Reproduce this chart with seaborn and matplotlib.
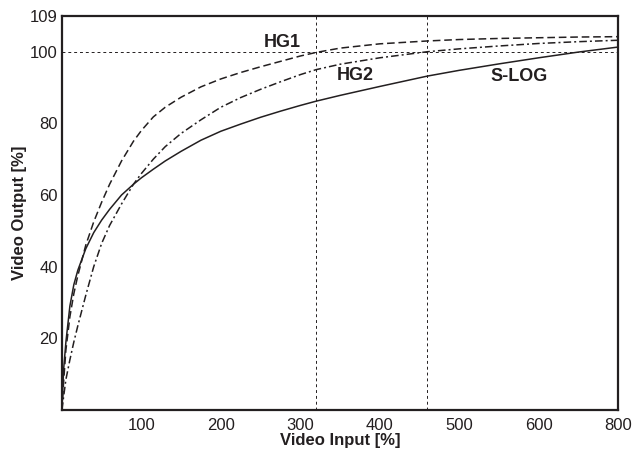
import pandas as pd
import matplotlib.pyplot as plt
import seaborn as sns

# Video input [%] sample points
video_input = [0, 2, 5, 10, 15, 20, 30, 40, 50, 60, 75, 90, 100, 115, 130,
               150, 175, 200, 225, 250, 275, 300, 320, 350, 400, 460, 500,
               550, 600, 650, 700]

# Video output [%] per curve
hg1 = [0, 7.5, 16.8, 26, 32.5, 37.5, 46, 52.5, 58, 63, 69.5, 75, 78,
       81.8, 84.5, 87.3, 90.2, 92.4, 94.2, 95.8, 97.3, 98.8, 99.8, 101,
       102.2, 103, 103.4, 103.7, 103.9, 104.1, 104.2]
hg2 = [0, 3.5, 8.5, 14, 19, 23.5, 32, 40, 46.5, 51.5, 57.5, 63, 66, 70,
       73.5, 77.2, 81, 84.5, 87.2, 89.5, 91.6, 93.6, 95, 96.5, 98.3, 100,
       100.8, 101.6, 102.3, 102.8, 103.2]
slog = [0, 11, 19, 29, 35, 39, 45, 49.5, 53, 56, 60, 63, 64.8, 67.2, 69.5,
        72.2, 75.3, 77.8, 79.8, 81.7, 83.4, 85, 86.2, 87.8, 90.3, 93.2, 94.8,
        96.6, 98.3, 99.9, 101.3]

curve_names = ['HG1', 'HG2', 'S-LOG']
label_x = [277, 369, 575]
label_y = [102.7, 93.4, 93.0]

# reference lines
ref_level = 100
ref_inputs = [320, 460]

x_ticks = [100, 200, 300, 400, 500, 600, 700]
x_tick_labels = ['100', '200', '300', '400', '500', '600', '800']
x_minor = [50, 150, 250, 350, 450, 550, 650]
y_ticks = [20, 40, 60, 80, 100, 110]
y_tick_labels = ['20', '40', '60', '80', '100', '109']

df = pd.DataFrame({
    'input': video_input * 3,
    'output': hg1 + hg2 + slog,
    'curve': [n for n in curve_names for _ in video_input],
})

sns.set_style("white")
plt.rcParams['font.family'] = ['Liberation Sans', 'DejaVu Sans']

ink = '#231f20'
fig, ax = plt.subplots(figsize=(6.32, 4.54), dpi=100)
fig.subplots_adjust(left=0.098, right=0.978, bottom=0.097, top=0.965)

styles = {'HG1': (0, (5, 2.5)), 'HG2': (0, (5, 2, 1.3, 2)), 'S-LOG': '-'}
for name in curve_names:
    sns.lineplot(data=df[df['curve'] == name], x='input', y='output',
                 ax=ax, color=ink, lw=1.1, linestyle=styles[name])

# dotted guides
ax.axhline(ref_level, color=ink, lw=0.7, linestyle=(0, (3, 3)))
for xv in ref_inputs:
    ax.axvline(xv, color=ink, lw=0.7, linestyle=(0, (3, 3)))

for name, lx, ly in zip(curve_names, label_x, label_y):
    ax.text(lx, ly, name, ha='center', va='center', fontsize=13,
            fontweight='bold', color=ink)

ax.set_xlim(0, 700)
ax.set_ylim(0, 110)
ax.set_xticks(x_ticks)
ax.set_xticklabels(x_tick_labels)
ax.set_xticks(x_minor, minor=True)
ax.set_yticks(y_ticks)
ax.set_yticklabels(y_tick_labels)

ax.tick_params(axis='both', which='major', direction='in', length=5,
               width=1.2, color=ink, labelsize=12, labelcolor=ink)
ax.tick_params(axis='x', which='major', pad=6)
ax.tick_params(axis='y', which='major', pad=3)
ax.tick_params(axis='x', which='minor', direction='in', length=3.5,
               width=1.2, color=ink)

for sp in ax.spines.values():
    sp.set_linewidth(1.6)
    sp.set_color(ink)

ax.set_xlabel('Video Input [%]', fontsize=12, fontweight='bold', color=ink,
              labelpad=0)
ax.set_ylabel('Video Output [%]', fontsize=12, fontweight='bold', color=ink,
              labelpad=2)

plt.savefig('out.png', dpi=100)
plt.close()
